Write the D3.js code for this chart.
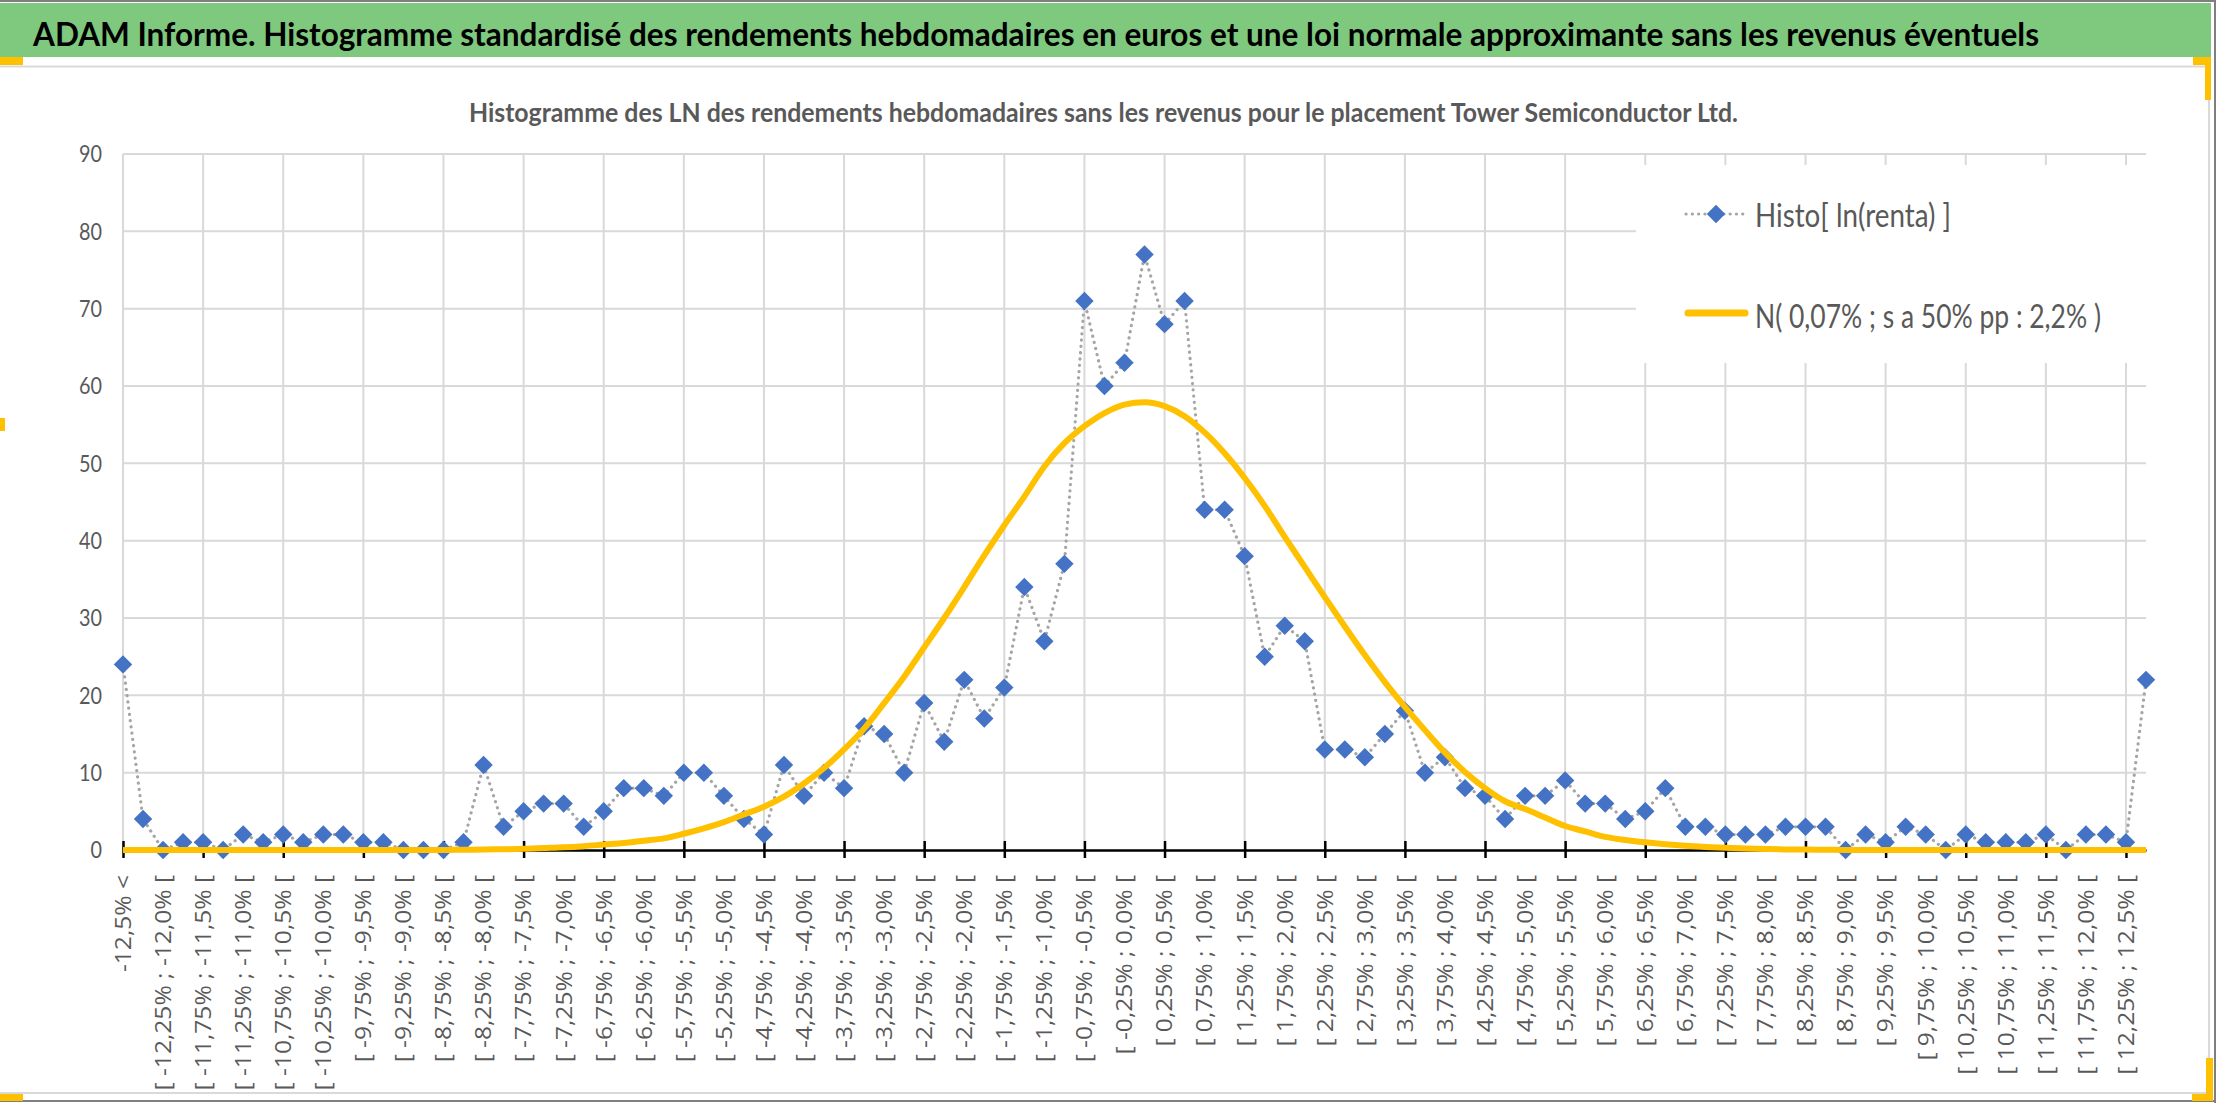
<!DOCTYPE html>
<html>
<head>
<meta charset="utf-8">
<title>ADAM Informe - Histogramme Tower Semiconductor</title>
<script src="https://d3js.org/d3.v7.min.js"></script>
<style>
  html, body { margin: 0; padding: 0; background: #fff; }
  svg { display: block; }
</style>
</head>
<body>
<svg id="chart"></svg>
<script>
// bins of the weekly log-returns (x axis categories)
const categories = [
  "-12,5% <",
  "[ -12,5% ; -12,25% [", "[ -12,25% ; -12,0% [", "[ -12,0% ; -11,75% [", "[ -11,75% ; -11,5% [",
  "[ -11,5% ; -11,25% [", "[ -11,25% ; -11,0% [", "[ -11,0% ; -10,75% [", "[ -10,75% ; -10,5% [",
  "[ -10,5% ; -10,25% [", "[ -10,25% ; -10,0% [", "[ -10,0% ; -9,75% [", "[ -9,75% ; -9,5% [",
  "[ -9,5% ; -9,25% [", "[ -9,25% ; -9,0% [", "[ -9,0% ; -8,75% [", "[ -8,75% ; -8,5% [",
  "[ -8,5% ; -8,25% [", "[ -8,25% ; -8,0% [", "[ -8,0% ; -7,75% [", "[ -7,75% ; -7,5% [",
  "[ -7,5% ; -7,25% [", "[ -7,25% ; -7,0% [", "[ -7,0% ; -6,75% [", "[ -6,75% ; -6,5% [",
  "[ -6,5% ; -6,25% [", "[ -6,25% ; -6,0% [", "[ -6,0% ; -5,75% [", "[ -5,75% ; -5,5% [",
  "[ -5,5% ; -5,25% [", "[ -5,25% ; -5,0% [", "[ -5,0% ; -4,75% [", "[ -4,75% ; -4,5% [",
  "[ -4,5% ; -4,25% [", "[ -4,25% ; -4,0% [", "[ -4,0% ; -3,75% [", "[ -3,75% ; -3,5% [",
  "[ -3,5% ; -3,25% [", "[ -3,25% ; -3,0% [", "[ -3,0% ; -2,75% [", "[ -2,75% ; -2,5% [",
  "[ -2,5% ; -2,25% [", "[ -2,25% ; -2,0% [", "[ -2,0% ; -1,75% [", "[ -1,75% ; -1,5% [",
  "[ -1,5% ; -1,25% [", "[ -1,25% ; -1,0% [", "[ -1,0% ; -0,75% [", "[ -0,75% ; -0,5% [",
  "[ -0,5% ; -0,25% [", "[ -0,25% ; 0,0% [", "[ 0,0% ; 0,25% [", "[ 0,25% ; 0,5% [",
  "[ 0,5% ; 0,75% [", "[ 0,75% ; 1,0% [", "[ 1,0% ; 1,25% [", "[ 1,25% ; 1,5% [",
  "[ 1,5% ; 1,75% [", "[ 1,75% ; 2,0% [", "[ 2,0% ; 2,25% [", "[ 2,25% ; 2,5% [",
  "[ 2,5% ; 2,75% [", "[ 2,75% ; 3,0% [", "[ 3,0% ; 3,25% [", "[ 3,25% ; 3,5% [",
  "[ 3,5% ; 3,75% [", "[ 3,75% ; 4,0% [", "[ 4,0% ; 4,25% [", "[ 4,25% ; 4,5% [",
  "[ 4,5% ; 4,75% [", "[ 4,75% ; 5,0% [", "[ 5,0% ; 5,25% [", "[ 5,25% ; 5,5% [",
  "[ 5,5% ; 5,75% [", "[ 5,75% ; 6,0% [", "[ 6,0% ; 6,25% [", "[ 6,25% ; 6,5% [",
  "[ 6,5% ; 6,75% [", "[ 6,75% ; 7,0% [", "[ 7,0% ; 7,25% [", "[ 7,25% ; 7,5% [",
  "[ 7,5% ; 7,75% [", "[ 7,75% ; 8,0% [", "[ 8,0% ; 8,25% [", "[ 8,25% ; 8,5% [",
  "[ 8,5% ; 8,75% [", "[ 8,75% ; 9,0% [", "[ 9,0% ; 9,25% [", "[ 9,25% ; 9,5% [",
  "[ 9,5% ; 9,75% [", "[ 9,75% ; 10,0% [", "[ 10,0% ; 10,25% [", "[ 10,25% ; 10,5% [",
  "[ 10,5% ; 10,75% [", "[ 10,75% ; 11,0% [", "[ 11,0% ; 11,25% [", "[ 11,25% ; 11,5% [",
  "[ 11,5% ; 11,75% [", "[ 11,75% ; 12,0% [", "[ 12,0% ; 12,25% [", "[ 12,25% ; 12,5% [",
  "12,5% <"
];

// Histo[ ln(renta) ] : weekly counts per bin
const histo = [
  24, 4, 0, 1, 1, 0, 2, 1, 2, 1,
  2, 2, 1, 1, 0, 0, 0, 1, 11, 3,
  5, 6, 6, 3, 5, 8, 8, 7, 10, 10,
  7, 4, 2, 11, 7, 10, 8, 16, 15, 10,
  19, 14, 22, 17, 21, 34, 27, 37, 71, 60,
  63, 77, 68, 71, 44, 44, 38, 25, 29, 27,
  13, 13, 12, 15, 18, 10, 12, 8, 7, 4,
  7, 7, 9, 6, 6, 4, 5, 8, 3, 3,
  2, 2, 2, 3, 3, 3, 0, 2, 1, 3,
  2, 0, 2, 1, 1, 1, 2, 0, 2, 2,
  1, 22
];

// N( 0,07% ; 2,2% ) : values
const normale = [
  0, 0, 0, 0, 0, 0, 0, 0, 0, 0,
  0, 0, 0, 0, 0, 0, 0, 0.03, 0.06, 0.1,
  0.15, 0.25, 0.35, 0.5, 0.7, 0.9, 1.2, 1.5, 2.1, 2.8,
  3.6, 4.6, 5.6, 6.9, 8.6, 10.6, 13, 15.7, 19, 22.4,
  26.2, 30, 34, 38.1, 42, 45.7, 49.6, 52.6, 54.8, 56.5,
  57.6, 57.9, 57.4, 56.1, 54, 51.3, 48.1, 44.5, 40.5, 36.6,
  32.7, 28.9, 25.2, 21.7, 18.5, 15.5, 12.6, 10.1, 8, 6.3,
  5.3, 4.2, 3.1, 2.4, 1.7, 1.3, 1.0, 0.75, 0.55, 0.4,
  0.28, 0.2, 0.13, 0.08, 0.05, 0.03, 0, 0, 0, 0,
  0, 0, 0, 0, 0, 0, 0, 0, 0, 0,
  0, 0
];

const yTicks = [0, 10, 20, 30, 40, 50, 60, 70, 80, 90];
const legendLabels = ["Histo[ ln(renta) ]", "N( 0,07% ; s a 50% pp : 2,2% )"];
const title = "ADAM Informe. Histogramme standardisé des rendements hebdomadaires en euros et une loi normale approximante sans les revenus éventuels";
const subtitle = "Histogramme des LN des rendements hebdomadaires sans les revenus pour le placement Tower Semiconductor Ltd.";

const W = 2216, H = 1103;
const grey = "#595959", blue = "#4472C4", gold = "#FFC000";

const svg = d3.select("#chart").attr("width", W).attr("height", H);

svg.append("rect").attr("width", W).attr("height", H).attr("fill", "#fff");

// green banner with the report title
svg.append("rect").attr("x", 0).attr("y", 3).attr("width", 2211).attr("height", 54).attr("fill", "#7fc97f");
svg.append("text")
  .attr("x", 33).attr("y", 46)
  .attr("font-family", "Lato, 'Open Sans', sans-serif")
  .attr("font-weight", "bold").attr("font-size", 33)
  .attr("textLength", 2006).attr("lengthAdjust", "spacingAndGlyphs")
  .attr("fill", "#000")
  .text(title);

// chart area frame
const frame = svg.append("g").attr("stroke", "#d9d9d9").attr("stroke-width", 2);
frame.append("line").attr("x1", 0).attr("x2", 2209).attr("y1", 66.5).attr("y2", 66.5);
frame.append("line").attr("x1", 2209).attr("x2", 2209).attr("y1", 66).attr("y2", 1093);
frame.append("line").attr("x1", 0).attr("x2", 2209).attr("y1", 1093).attr("y2", 1093);
const outer = svg.append("g").attr("stroke", "#7f7f7f").attr("stroke-width", 2);
outer.append("line").attr("x1", 0).attr("x2", W).attr("y1", 1).attr("y2", 1);
outer.append("line").attr("x1", W - 1).attr("x2", W - 1).attr("y1", 0).attr("y2", H);
outer.append("line").attr("x1", 0).attr("x2", W).attr("y1", H - 2).attr("y2", H - 2);

// yellow selection handles
const handles = [[0, 57, 23, 8], [2193, 57, 18, 8], [2205, 57, 6, 43], [0, 418, 5, 13],
                 [0, 1094, 23, 7], [2192, 1094, 21, 7], [2206, 1058, 7, 43]];
svg.append("g").selectAll("rect").data(handles).join("rect")
  .attr("x", d => d[0]).attr("y", d => d[1]).attr("width", d => d[2]).attr("height", d => d[3])
  .attr("fill", gold);

// chart subtitle
svg.append("text")
  .attr("x", 469).attr("y", 122)
  .attr("font-family", "Lato, 'Open Sans', sans-serif")
  .attr("font-weight", "bold").attr("font-size", 27)
  .attr("textLength", 1269).attr("lengthAdjust", "spacingAndGlyphs")
  .attr("fill", grey)
  .text(subtitle);

// scales
const x = d3.scalePoint().domain(categories).range([123, 2146]);
const y = d3.scaleLinear().domain([0, 90]).range([850, 154]);

const gridCats = categories.filter((d, i) => i % 4 === 0);
const labelCats = categories.filter((d, i) => i % 2 === 0);

// gridlines
const grid = svg.append("g").attr("stroke", "#d9d9d9").attr("stroke-width", 2);
grid.selectAll(".h").data(yTicks.slice(1)).join("line")
  .attr("x1", 123).attr("x2", 2146)
  .attr("y1", d => y(d)).attr("y2", d => y(d));
grid.selectAll(".v").data(gridCats).join("line")
  .attr("x1", d => x(d)).attr("x2", d => x(d))
  .attr("y1", y(90)).attr("y2", y(0));

// y axis labels
const yAxis = svg.append("g").attr("transform", "translate(102,0)")
  .call(d3.axisLeft(y).tickValues(yTicks).tickSize(0).tickPadding(0));
yAxis.select(".domain").remove();
yAxis.selectAll("text")
  .attr("font-family", "Lato, 'Open Sans', sans-serif")
  .attr("font-size", 24).attr("fill", grey)
  .attr("textLength", d => String(d).length * 11.5)
  .attr("lengthAdjust", "spacingAndGlyphs");

// x axis line and crossing tick marks
const xAxis = svg.append("g").attr("transform", "translate(0,850)")
  .call(d3.axisBottom(x).tickValues(gridCats).tickSizeInner(8).tickSizeOuter(0).tickFormat(""));
xAxis.select(".domain").attr("stroke", "#000").attr("stroke-width", 2.5);
xAxis.selectAll(".tick line").attr("y1", -9).attr("y2", 8).attr("stroke", "#000").attr("stroke-width", 2.5);

// x axis category labels, rotated
const stretch = 1.17;
const xLabels = svg.append("g").attr("transform", "translate(0,850)")
  .call(d3.axisBottom(x).tickValues(labelCats).tickSize(0).tickPadding(0));
xLabels.select(".domain").remove();
xLabels.selectAll("text")
  .attr("font-family", "'Open Sans', sans-serif")
  .attr("font-size", 21).attr("fill", grey)
  .attr("text-anchor", "end")
  .attr("transform", `rotate(-90) scale(${stretch},1)`)
  .attr("x", -25 / stretch).attr("y", 0).attr("dy", "0.35em");

// histogram series: dotted grey line with blue diamonds
const histoLine = d3.line().x((d, i) => x(categories[i])).y(d => y(d));
svg.append("path").datum(histo)
  .attr("d", histoLine)
  .attr("fill", "none").attr("stroke", "#a5a5a5").attr("stroke-width", 3.2)
  .attr("stroke-linecap", "round").attr("stroke-dasharray", "0.1 6.2");

const diamond = d3.symbol().type(d3.symbolSquare).size(170);
svg.append("g").selectAll("path").data(histo).join("path")
  .attr("d", diamond)
  .attr("transform", (d, i) => `translate(${x(categories[i])},${y(d)}) rotate(45)`)
  .attr("fill", blue);

// approximating normal law
const normLine = d3.line().x((d, i) => x(categories[i])).y(d => y(d)).curve(d3.curveMonotoneX);
svg.append("path").datum(normale)
  .attr("d", normLine)
  .attr("fill", "none").attr("stroke", gold).attr("stroke-width", 6)
  .attr("stroke-linejoin", "round");

// legend
const legend = svg.append("g");
legend.append("rect").attr("x", 1636).attr("y", 165).attr("width", 510).attr("height", 198).attr("fill", "#fff");
legend.append("line").attr("x1", 1686).attr("x2", 1746).attr("y1", 214).attr("y2", 214)
  .attr("stroke", "#a5a5a5").attr("stroke-width", 3.2)
  .attr("stroke-linecap", "round").attr("stroke-dasharray", "0.1 6.2");
legend.append("path").attr("d", diamond).attr("transform", "translate(1716,214) rotate(45)").attr("fill", blue);
legend.append("line").attr("x1", 1688).attr("x2", 1745).attr("y1", 313).attr("y2", 313)
  .attr("stroke", gold).attr("stroke-width", 7).attr("stroke-linecap", "round");
legend.selectAll("text").data(legendLabels).join("text")
  .attr("x", 1755).attr("y", (d, i) => i === 0 ? 227 : 328)
  .attr("font-family", "Lato, 'Open Sans', sans-serif")
  .attr("font-size", 33).attr("fill", grey)
  .attr("textLength", (d, i) => i === 0 ? 196 : 346)
  .attr("lengthAdjust", "spacingAndGlyphs")
  .text(d => d);
</script>
</body>
</html>
